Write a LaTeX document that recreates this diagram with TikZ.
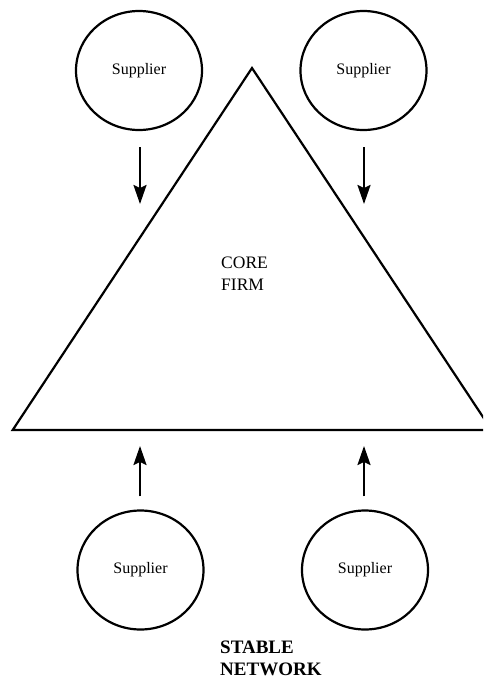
\documentclass[tikz,border=0pt]{standalone}
\usepackage{fontspec}
\setmainfont{Liberation Serif}
\usetikzlibrary{shapes.geometric,arrows.meta}
\begin{document}
\begin{tikzpicture}[x=1pt,y=-1pt,
  outline/.style={line width=2.2pt,line join=miter},
  supplier/.style={ellipse,draw,line width=2.2pt,minimum width=126pt,minimum height=119pt,
    inner sep=0pt,font=\fontsize{16}{18}\selectfont},
  flow/.style={line width=2.2pt,-{Stealth[length=19pt,width=13pt,inset=3pt]}},
  label/.style={align=left,anchor=north west,inner sep=0pt}]
\useasboundingbox (0,0) rectangle (483,681);
\begin{scope}
\clip (0,0) rectangle (483,681);
% the core firm
\coordinate (apex) at (252,68);
\coordinate (bl) at (12.7,430);
\coordinate (br) at (491.6,430);
\draw[outline] (apex) -- (bl) -- (br) -- cycle;
\end{scope}
\node[label,font=\fontsize{17.5}{22}\selectfont] (core) at (221,257) {CORE\\FIRM};

% suppliers
\node[supplier] (s1) at (139,70.5) {Supplier};
\node[supplier] (s2) at (363.5,70.5) {Supplier};
\node[supplier] (s3) at (140.5,570) {Supplier};
\node[supplier] (s4) at (365,570) {Supplier};

% arrow tips toward the firm
\coordinate (t1) at (140,204);
\coordinate (t2) at (364,204);
\coordinate (t3) at (140,446);
\coordinate (t4) at (364,446);
\draw[flow,shorten <=16pt] (s1.south -| t1) -- (t1);
\draw[flow,shorten <=16pt] (s2.south -| t2) -- (t2);
\draw[flow,shorten <=13pt] (s3.north -| t3) -- (t3);
\draw[flow,shorten <=13pt] (s4.north -| t4) -- (t4);

\node[label,font=\bfseries\fontsize{19}{22}\selectfont] (net) at (220,641) {STABLE\\NETWORK};
\end{tikzpicture}
\end{document}
